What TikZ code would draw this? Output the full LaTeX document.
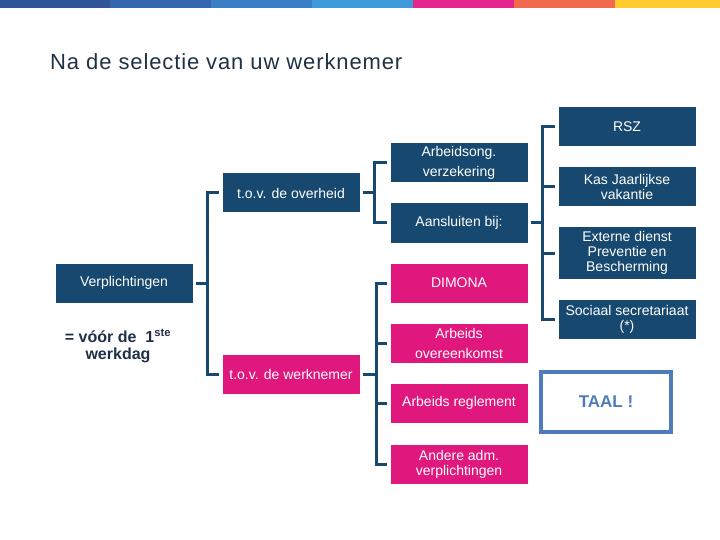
\documentclass[tikz,border=0pt]{standalone}
\usepackage{fontspec}
\setmainfont{Liberation Sans}
\usetikzlibrary{positioning}
\definecolor{navy}{HTML}{17486F}
\definecolor{roze}{HTML}{E0177C}
\definecolor{titel}{HTML}{1F3245}
\definecolor{taalblauw}{HTML}{4E7BB9}
\definecolor{donker}{HTML}{1E3048}
\definecolor{balkA}{HTML}{2F5597}
\definecolor{balkB}{HTML}{3567B1}
\definecolor{balkC}{HTML}{3A7FC5}
\definecolor{balkD}{HTML}{3F9ADA}
\definecolor{balkE}{HTML}{E5258B}
\definecolor{balkF}{HTML}{F06A50}
\definecolor{balkG}{HTML}{FECC2C}

\begin{document}
\begin{tikzpicture}[x=1pt ,y=-1pt ,node distance =60pt and 168pt ,on grid ,
box/.style ={ minimum width =137pt ,minimum height =39pt ,inner sep =0pt ,
  text=white ,align=center ,font=\fontsize{14}{15}\selectfont},
navybox/.style ={ box ,fill=navy},
pinkbox/.style ={ box ,fill=roze},
ruim/.style ={ font=\fontsize{14}{20}\selectfont},
link/.style ={ draw=navy ,line width =3pt}]
\useasboundingbox (0,0) rectangle (720,540);
% kleurenbalk bovenaan
\foreach \c/\a/\b in {balkA/0/110, balkB/110/211, balkC/211/312, balkD/312/413,
  balkE/413/514, balkF/514/615, balkG/615/720}
  \fill[\c] (\a,0) rectangle (\b,8);
\node[anchor=base west ,inner sep =0pt ,text=titel ,
  font=\fontsize{22}{26}\selectfont\addfontfeature{LetterSpace=4}] (titel) at (50,70)
  {Na de selectie van uw werknemer};
% boom
\node[navybox] (verpl) at (124,283) {Verplichtingen};
\node[text=donker ,align=center ,font=\bfseries\fontsize{16}{17}\selectfont] (eerstedag)
  [below left = 63pt and 6pt of verpl] {= vóór de~ 1\textsuperscript{ste}\\werkdag};
\node[navybox] (overheid) [above right = 90pt and 167pt of verpl] {t.o.v. de overheid};
\node[pinkbox] (werknemer) [below right = 91pt and 167pt of verpl] {t.o.v. de werknemer};
\node[navybox ,ruim] (verzek) [above right = 30pt and 168pt of overheid] {Arbeidsong.\\verzekering};
\node[navybox] (aansl) [below = of verzek] {Aansluiten bij:};
\node[pinkbox] (dimona) [above right = 91pt and 168pt of werknemer] {DIMONA};
\node[pinkbox ,ruim] (overeenk) [below = of dimona] {Arbeids\\overeenkomst};
\node[pinkbox] (reglement) [below = of overeenk] {Arbeids reglement};
\node[pinkbox] (andere) [below = 61pt of reglement] {Andere adm.\\verplichtingen};
\node[navybox] (rsz) [above right = 96pt and 168pt of aansl] {RSZ};
\node[navybox] (kas) [below = of rsz] {Kas Jaarlijkse\\vakantie};
\node[navybox ,minimum height =51pt] (extern) [below = 66pt of kas] {Externe dienst\\Preventie en\\Bescherming};
\node[navybox] (sociaal) [below = 66pt of extern] {Sociaal secretariaat\\(*)};
\node[draw=taalblauw ,line width =4pt ,minimum width =130pt ,minimum height =60pt ,
  text=taalblauw ,font=\bfseries\fontsize{17}{20}\selectfont] (taal)
  [below left = 83pt and 21pt of sociaal] {TAAL !};
% verbindingen
\foreach \n in {overheid, werknemer}
  \draw[link] ([xshift=3pt]verpl.east) -- ++(12pt,0) |- ([xshift=-3pt]\n.west);
\foreach \n in {verzek, aansl}
  \draw[link] ([xshift=3pt]overheid.east) -- ++(12pt,0) |- ([xshift=-3pt]\n.west);
\foreach \n in {rsz, kas, extern, sociaal}
  \draw[link] ([xshift=3pt]aansl.east) -- ++(12pt,0) |- ([xshift=-3pt]\n.west);
\foreach \n in {dimona, overeenk, reglement, andere}
  \draw[link] ([xshift=3pt]werknemer.east) -- ++(14pt,0) |- ([xshift=-3pt]\n.west);
\end{tikzpicture}
\end{document}
